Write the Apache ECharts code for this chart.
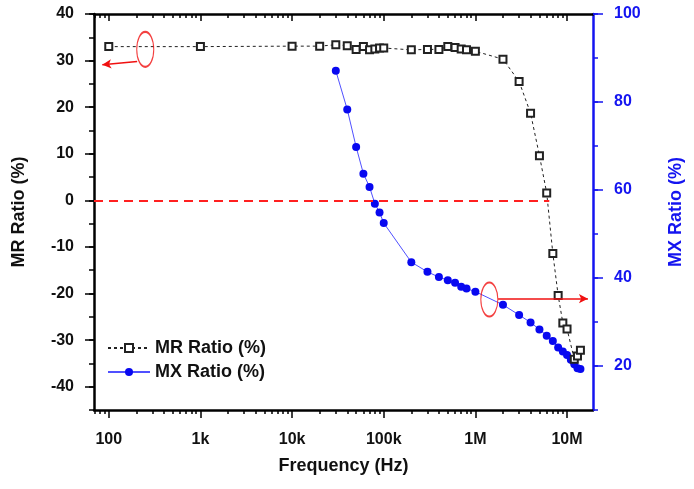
<!DOCTYPE html>
<html style="height: 100%">
<head>
  <meta charset="utf-8">
  <script src="https://cdn.jsdelivr.net/npm/echarts@6/dist/echarts.min.js"></script>
</head>
<body style="height: 100%; margin: 0; background: #fff">
  <div id="container" style="width: 694px; height: 489px"></div>
  <script type="text/javascript">
    // MR ratio (left axis), open squares
    var mrFreq = [100, 1e3, 1e4, 2e4, 3e4, 4e4, 5e4, 6e4, 7e4, 8e4, 9e4, 1e5,
                  2e5, 3e5, 4e5, 5e5, 6e5, 7e5, 8e5, 1e6,
                  2e6, 3e6, 4e6, 5e6, 6e6, 7e6, 8e6, 9e6, 1e7, 1.2e7, 1.3e7, 1.4e7];
    var mrRatio = [33.0, 33.0, 33.1, 33.1, 33.4, 33.2, 32.4, 33.0, 32.3, 32.5, 32.7, 32.7,
                   32.3, 32.4, 32.4, 33.0, 32.8, 32.5, 32.3, 32.0,
                   30.3, 25.5, 18.7, 9.6, 1.6, -11.4, -20.4, -26.3, -27.6, -34.1, -33.4, -32.2];

    // MX ratio (right axis), filled circles
    var mxFreq = [3e4, 4e4, 5e4, 6e4, 7e4, 8e4, 9e4, 1e5,
                  2e5, 3e5, 4e5, 5e5, 6e5, 7e5, 8e5, 1e6,
                  2e6, 3e6, 4e6, 5e6, 6e6, 7e6, 8e6, 9e6, 1e7, 1.1e7, 1.2e7, 1.3e7, 1.4e7];
    var mxRatio = [87.1, 78.3, 69.8, 63.7, 60.7, 56.9, 54.9, 52.5,
                   43.6, 41.4, 40.2, 39.5, 38.9, 38.0, 37.6, 36.9,
                   33.9, 31.6, 29.9, 28.3, 26.9, 25.7, 24.2, 23.3, 22.5, 21.4, 20.4, 19.5, 19.3];

    var freqTicks = [100, 1e3, 1e4, 1e5, 1e6, 1e7];
    var mrTicks = [-40, -30, -20, -10, 0, 10, 20, 30, 40];
    var mxTicks = [20, 40, 60, 80, 100];

    // red annotations (data coordinates)
    var zeroLine = [[69, 0], [6.4e6, 0]];
    var arrowLeft = [[204, 29.8], [85, 29.1]];
    var arrowRight = [[1.77e6, 35.3], [1.69e7, 35.3]];
    var ringLeft = [250, 32.4];
    var ringRight = [1.42e6, 35.1];

    var xMin = 69, xMax = 1.92e7;
    var minorFreq = [70, 80, 90];
    for (var d = 100; d < 1e7; d *= 10) {
      for (var m = 2; m <= 9; m++) minorFreq.push(m * d);
    }

    var FONT = 'Liberation Sans';
    var BLUE = '#1414f0';

    function fmtFreq(v) {
      if (v >= 1e6) return Math.round(v / 1e6) + 'M';
      if (v >= 1e3) return Math.round(v / 1e3) + 'k';
      return String(Math.round(v));
    }

    function pairs(xs, ys) {
      return xs.map(function (x, i) { return [x, ys[i]]; });
    }

    var dom = document.getElementById('container');
    var myChart = echarts.init(dom, null, { renderer: 'canvas' });

    var tickFont = { fontFamily: FONT, fontWeight: 'bold', fontSize: 16, color: '#111' };

    var option = {
      animation: false,
      backgroundColor: '#fff',
      grid: { left: 94, right: 101, top: 14, bottom: 79, containLabel: false, outerBoundsMode: 'none' },
      legend: {
        data: ['MR Ratio (%)', 'MX Ratio (%)'],
        orient: 'vertical',
        left: 102,
        top: 334,
        itemWidth: 42,
        itemHeight: 10,
        itemGap: 6,
        textStyle: { fontFamily: FONT, fontWeight: 'bold', fontSize: 18, color: '#111' }
      },
      xAxis: [
        {
          type: 'log', position: 'bottom', min: xMin, max: xMax,
          axisLine: { onZero: false, lineStyle: { color: '#000', width: 2.5 } },
          axisTick: { customValues: freqTicks, length: 8, lineStyle: { color: '#000', width: 1.5 } },
          axisLabel: Object.assign({ customValues: freqTicks, margin: 22, formatter: fmtFreq }, tickFont),
          splitLine: { show: false },
          name: 'Frequency (Hz)', nameLocation: 'middle', nameGap: 47,
          nameTextStyle: { fontFamily: FONT, fontWeight: 'bold', fontSize: 18, color: '#111' }
        },
        {
          type: 'log', position: 'bottom', min: xMin, max: xMax,
          axisLine: { show: false, onZero: false },
          axisTick: { customValues: minorFreq, length: 4, lineStyle: { color: '#000', width: 1.5 } },
          axisLabel: { show: false }, splitLine: { show: false }
        },
        {
          type: 'log', position: 'top', min: xMin, max: xMax,
          axisLine: { onZero: false, lineStyle: { color: '#000', width: 2.5 } },
          axisTick: { customValues: freqTicks, inside: true, length: 7, lineStyle: { color: '#000', width: 1.5 } },
          axisLabel: { show: false }, splitLine: { show: false }
        },
        {
          type: 'log', position: 'top', min: xMin, max: xMax,
          axisLine: { show: false, onZero: false },
          axisTick: { customValues: minorFreq, inside: true, length: 4, lineStyle: { color: '#000', width: 1.5 } },
          axisLabel: { show: false }, splitLine: { show: false }
        }
      ],
      yAxis: [
        {
          type: 'value', position: 'left', min: -45, max: 40, interval: 5,
          axisLine: { show: true, onZero: false, lineStyle: { color: '#000', width: 2.5 } },
          axisTick: { length: 5, lineStyle: { color: '#000', width: 1.5 } },
          axisLabel: Object.assign({
            margin: 20,
            formatter: function (v) { return v % 10 === 0 ? String(v) : ''; }
          }, tickFont),
          splitLine: { show: false },
          name: 'MR Ratio (%)', nameLocation: 'middle', nameGap: 66, nameRotate: 90,
          nameTextStyle: { fontFamily: FONT, fontWeight: 'bold', fontSize: 18, color: '#111' }
        },
        {
          type: 'value', position: 'right', min: 10, max: 100, interval: 10,
          axisLine: { show: true, onZero: false, lineStyle: { color: BLUE, width: 2.5 } },
          axisTick: { length: 5, lineStyle: { color: BLUE, width: 1.5 } },
          axisLabel: {
            margin: 21, fontFamily: FONT, fontWeight: 'bold', fontSize: 16, color: BLUE,
            formatter: function (v) { return v % 20 === 0 ? String(v) : ''; }
          },
          splitLine: { show: false },
          name: 'MX Ratio (%)', nameLocation: 'middle', nameGap: 74, nameRotate: 90,
          nameTextStyle: { fontFamily: FONT, fontWeight: 'bold', fontSize: 18, color: BLUE }
        },
        {
          type: 'value', position: 'left', min: -45, max: 40,
          axisLine: { show: false, onZero: false },
          axisTick: { customValues: mrTicks, length: 9, lineStyle: { color: '#000', width: 1.5 } },
          axisLabel: { show: false }, splitLine: { show: false }
        },
        {
          type: 'value', position: 'right', min: 10, max: 100,
          axisLine: { show: false, onZero: false },
          axisTick: { customValues: mxTicks, length: 10, lineStyle: { color: BLUE, width: 1.5 } },
          axisLabel: { show: false }, splitLine: { show: false }
        }
      ],
      series: [
        {
          name: 'MR Ratio (%)',
          type: 'line',
          xAxisIndex: 0, yAxisIndex: 0,
          data: pairs(mrFreq, mrRatio),
          symbol: 'emptyRect',
          symbolSize: 7,
          itemStyle: { color: '#222', borderWidth: 1.2 },
          lineStyle: { color: '#222', width: 1, type: [3, 3] },
          z: 4,
          markLine: {
            silent: true,
            animation: false,
            label: { show: false },
            symbol: ['none', 'none'],
            data: [
              [
                { coord: zeroLine[0], lineStyle: { color: '#ff2020', width: 2, type: [9, 6] } },
                { coord: zeroLine[1] }
              ],
              [
                { coord: arrowLeft[0], symbol: 'none', lineStyle: { color: '#f01010', width: 1.5, type: 'solid' } },
                { coord: arrowLeft[1], symbol: 'arrow', symbolSize: [7, 9] }
              ]
            ]
          }
        },
        {
          name: 'MX Ratio (%)',
          type: 'line',
          xAxisIndex: 0, yAxisIndex: 1,
          data: pairs(mxFreq, mxRatio),
          symbol: 'circle',
          symbolSize: 8,
          itemStyle: { color: '#0808f0' },
          lineStyle: { color: '#5050ff', width: 1 },
          z: 3,
          markLine: {
            silent: true,
            animation: false,
            label: { show: false },
            symbol: ['none', 'arrow'],
            symbolSize: [7, 9],
            lineStyle: { color: '#f01010', width: 1.5, type: 'solid' },
            data: [[{ coord: arrowRight[0] }, { coord: arrowRight[1] }]]
          }
        },
        {
          type: 'scatter', xAxisIndex: 0, yAxisIndex: 0,
          data: [ringLeft], symbol: 'circle', symbolSize: [17, 35], silent: true,
          itemStyle: { color: 'rgba(0,0,0,0)', borderColor: '#f01010', borderWidth: 1.5 }, z: 5
        },
        {
          type: 'scatter', xAxisIndex: 0, yAxisIndex: 1,
          data: [ringRight], symbol: 'circle', symbolSize: [17, 34], silent: true,
          itemStyle: { color: 'rgba(0,0,0,0)', borderColor: '#f01010', borderWidth: 1.5 }, z: 5
        }
      ]
    };

    myChart.setOption(option);
  </script>
</body>
</html>
